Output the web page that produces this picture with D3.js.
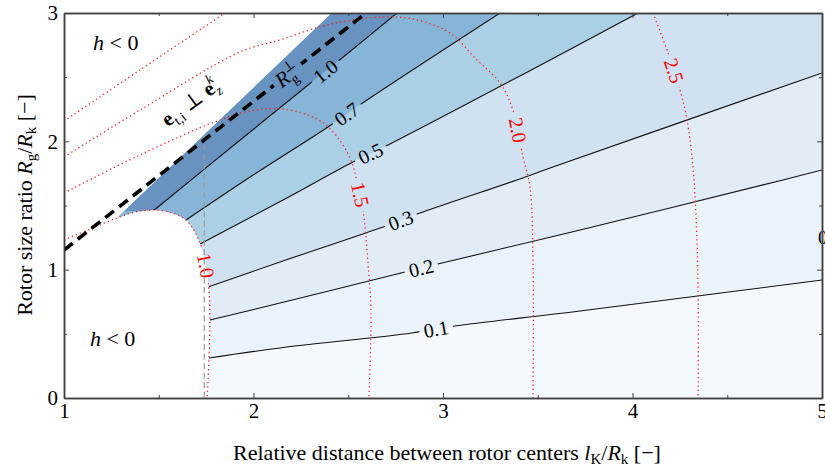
<!DOCTYPE html>
<html lang="en">
  <head>
    <meta charset="utf-8" />
    <title>Rotor size ratio vs. rotor distance</title>
    <script src="https://d3js.org/d3.v7.min.js"></script>
    <style>
      body { margin: 0; background: #fff; }
      text { font-family: "Liberation Serif", "DejaVu Serif", serif; }
    </style>
  </head>
  <body>
    <div id="graph"></div>
    <script>

    // ---- data, every point is [l_K/R_k, R_g/R_k] ----
    var xTicks = [1, 2, 3, 4, 5];
    var xMinorTicks = [1.5, 2.5, 3.5, 4.5];
    var yTicks = [0, 1, 2, 3];
    var yMinorTicks = [0.5, 1.5, 2.5];

    // black contour lines of the blue field
    var levels = [0.1, 0.2, 0.3, 0.5, 0.7, 1.0];
    var contour01 = [[1.765, 0.312], [2.140, 0.390], [2.836, 0.507], [3.063, 0.561], [3.723, 0.678], [5.000, 0.920]];
    var contour02 = [[1.770, 0.608], [2.140, 0.740], [2.757, 0.966], [2.995, 1.052], [3.723, 1.309], [4.794, 1.699], [5.000, 1.777]];
    var contour03 = [[1.760, 0.865], [2.140, 1.060], [2.668, 1.325], [2.894, 1.449], [3.390, 1.699], [3.565, 1.792], [5.000, 2.533]];
    var contour05 = [[1.718, 1.200], [2.156, 1.543], [2.525, 1.839], [2.720, 1.979], [3.565, 2.634], [4.029, 3.000]];
    var contour07 = [[1.644, 1.387], [1.982, 1.722], [2.393, 2.112], [2.599, 2.322], [3.301, 3.000]];
    var contour10 = [[1.470, 1.457], [1.982, 2.073], [2.288, 2.439], [2.467, 2.649], [2.757, 3.000]];

    // red dotted contours (1.0 also bounds the h < 0 blob)
    var redLeft10 = [[1.000, 1.231], [1.137, 1.317]];
    var blob = [[1.280, 1.403], [1.375, 1.449], [1.470, 1.465], [1.570, 1.442], [1.644, 1.387], [1.691, 1.294],
                [1.723, 1.184], [1.749, 1.036], [1.765, 0.842], [1.770, 0.608], [1.765, 0.312], [1.755, 0.000]];
    var red15 = [[1.000, 1.597], [1.401, 1.894], [1.807, 2.158], [1.982, 2.236], [2.156, 2.252], [2.335, 2.174],
                 [2.430, 2.057], [2.509, 1.870], [2.551, 1.660], [2.578, 1.465], [2.604, 1.052], [2.620, 0.662], [2.609, 0.000]];
    var red20 = [[1.000, 1.878], [1.401, 2.244], [1.929, 2.696], [2.140, 2.790], [2.388, 2.907], [2.683, 2.969],
                 [2.863, 2.946], [3.037, 2.844], [3.179, 2.634], [3.301, 2.455], [3.369, 2.244], [3.422, 1.878],
                 [3.459, 1.644], [3.475, 1.052], [3.475, 0.000]];
    var red25a = [[1.000, 2.158], [1.401, 2.556], [1.850, 3.000]];
    var red25b = [[4.108, 3.000], [4.182, 2.712], [4.251, 2.400], [4.288, 2.166], [4.319, 1.800], [4.335, 1.426],
                  [4.346, 0.858], [4.346, 0.000]];

    // other curves
    var blueEdge = [[1.280, 1.403], [2.414, 3.000]];
    var rgPerp = [[1.000, 1.153], [2.594, 3.000]];
    var sqrt3Line = [[1.74, 2.05], [1.74, 0.00]];

    var bandColors = ["#f4f9fe", "#ebf3fa", "#e1ecf7", "#d0e2f1", "#abd0e6", "#86b5d8", "#6892c0"];

    // ---- layout ----
    var w = 825, h = 471;
    var x = d3.scaleLinear().domain([1, 5]).range([64, 822]);
    var y = d3.scaleLinear().domain([0, 3]).range([398, 13]);
    var font = "Liberation Serif, DejaVu Serif, serif";

    var svg = d3.select("#graph")
      .append("svg")
        .attr("width", w)
        .attr("height", h);
    var defs = svg.append("defs");

    var lineCR = d3.line().x(d => x(d[0])).y(d => y(d[1])).curve(d3.curveCatmullRom.alpha(0.5));
    var lineLin = d3.line().x(d => x(d[0])).y(d => y(d[1]));
    var pt = d => x(d[0]) + "," + y(d[1]);

    defs.append("clipPath").attr("id", "plotClip").append("rect")
      .attr("x", x(1)).attr("y", y(3))
      .attr("width", x(5) - x(1)).attr("height", y(0) - y(3));

    // the h >= 0 region
    var validD = lineCR(blob.slice().reverse()) + "L" + pt(blueEdge[1]) + "L" + pt([5, 3]) + "L" + pt([5, 0]) + "Z";
    defs.append("clipPath").attr("id", "validClip").append("path").attr("d", validD);

    function makeMask(id) {
      var m = defs.append("mask").attr("id", id)
        .attr("maskUnits", "userSpaceOnUse")
        .attr("x", 0).attr("y", 0).attr("width", w).attr("height", h);
      m.append("rect").attr("width", w).attr("height", h).attr("fill", "white");
      return m;
    }
    var maskBlack = makeMask("maskBlack"), maskRed = makeMask("maskRed"), maskDash = makeMask("maskDash");

    // filled bands
    var contours = [contour01, contour02, contour03, contour05, contour07, contour10];
    var field = svg.append("g").attr("clip-path", "url(#validClip)");
    field.append("rect")
      .attr("x", x(1)).attr("y", y(3))
      .attr("width", x(5) - x(1)).attr("height", y(0) - y(3))
      .attr("fill", bandColors[0]);
    contours.forEach(function (c, i) {
      var first = c[0], last = c[c.length - 1];
      var d = lineCR(c);
      if (last[0] >= 5) d += "L" + pt([5, 3]);
      d += "L" + pt([1, 3]) + "L" + pt([1, first[1]]) + "Z";
      field.append("path").attr("d", d).attr("fill", bandColors[i + 1]);
    });

    // put a label on a path at the point nearest to anchor
    function onPath(node, anchor) {
      var total = node.getTotalLength();
      var ax = x(anchor[0]), ay = y(anchor[1]);
      var best = 0, bestD = Infinity;
      for (var s = 0; s <= total; s += 0.5) {
        var p = node.getPointAtLength(s);
        var dd = (p.x - ax) * (p.x - ax) + (p.y - ay) * (p.y - ay);
        if (dd < bestD) { bestD = dd; best = s; }
      }
      var p0 = node.getPointAtLength(Math.max(0, best - 4));
      var p1 = node.getPointAtLength(Math.min(total, best + 4));
      var pm = node.getPointAtLength(best);
      return {x: pm.x, y: pm.y, angle: Math.atan2(p1.y - p0.y, p1.x - p0.x) * 180 / Math.PI};
    }

    function cutLabel(mask, pos, width, height) {
      mask.append("rect")
        .attr("transform", `translate(${pos.x},${pos.y}) rotate(${pos.angle})`)
        .attr("x", -width / 2).attr("y", -height / 2)
        .attr("width", width).attr("height", height)
        .attr("fill", "black");
    }

    var labelLayer = svg.append("g").attr("clip-path", "url(#plotClip)");

    // black contour lines
    var blackG = svg.append("g").attr("clip-path", "url(#validClip)")
      .append("g").attr("mask", "url(#maskBlack)");
    var blackAnchors = [[2.963, 0.538], [2.884, 1.013], [2.773, 1.403], [2.615, 1.909], [2.483, 2.229], [2.367, 2.571]];
    contours.forEach(function (c, i) {
      var path = blackG.append("path")
        .attr("d", lineCR(c))
        .attr("fill", "none")
        .attr("stroke", "#111")
        .attr("stroke-width", 1.1);
      var pos = onPath(path.node(), blackAnchors[i]);
      var t = labelLayer.append("text")
        .attr("transform", `translate(${pos.x},${pos.y}) rotate(${pos.angle})`)
        .attr("text-anchor", "middle")
        .attr("dy", "0.35em")
        .attr("font-size", 20)
        .attr("fill", "#000")
        .text(d3.format(".1f")(levels[i]));
      cutLabel(maskBlack, pos, t.node().getComputedTextLength() + 9, 16);
    });

    // gray dashed vertical line
    svg.append("path")
      .attr("d", lineLin(sqrt3Line))
      .attr("fill", "none")
      .attr("stroke", "#9a9a9a")
      .attr("stroke-width", 1.2)
      .attr("stroke-dasharray", "6,3.5");

    // red dotted contours
    var redG = svg.append("g").attr("clip-path", "url(#plotClip)")
      .append("g").attr("mask", "url(#maskRed)");
    var redCurves = [
      {pts: redLeft10.concat(blob), label: "1.0", anchor: [1.760, 1.036]},
      {pts: red15, label: "1.5", anchor: [2.551, 1.582]},
      {pts: red20, label: "2.0", anchor: [3.406, 2.088]},
      {pts: red25a, label: null},
      {pts: red25b, label: "2.5", anchor: [4.235, 2.556]}
    ];
    redCurves.forEach(function (c) {
      var path = redG.append("path")
        .attr("d", lineCR(c.pts))
        .attr("fill", "none")
        .attr("stroke", "#ff2020")
        .attr("stroke-width", 1.3)
        .attr("stroke-dasharray", "1.3,3");
      if (!c.label) return;
      var pos = onPath(path.node(), c.anchor);
      var t = labelLayer.append("text")
        .attr("transform", `translate(${pos.x},${pos.y}) rotate(${pos.angle})`)
        .attr("text-anchor", "middle")
        .attr("dy", "0.35em")
        .attr("font-size", 20)
        .attr("fill", "#ff0000")
        .text(c.label);
      cutLabel(maskRed, pos, t.node().getComputedTextLength() + 9, 16);
    });

    // R_g perpendicular dashed line
    var dashG = svg.append("g").attr("clip-path", "url(#plotClip)")
      .append("g").attr("mask", "url(#maskDash)");
    var dashPath = dashG.append("path")
      .attr("d", lineLin(rgPerp))
      .attr("fill", "none")
      .attr("stroke", "#000")
      .attr("stroke-width", 3.6)
      .attr("stroke-dasharray", "11,6.5");
    var rPos = onPath(dashPath.node(), [2.187, 2.501]);
    var rText = labelLayer.append("text")
      .attr("transform", `translate(${rPos.x},${rPos.y}) rotate(${rPos.angle})`)
      .attr("text-anchor", "middle")
      .attr("dy", "0.35em")
      .attr("font-size", 21);
    rText.append("tspan").attr("font-style", "italic").text("R");
    rText.append("tspan").attr("font-size", 14).attr("dy", 5).text("g");
    rText.append("tspan").attr("font-size", 14).attr("dx", -7).attr("dy", -14).text("⊥");
    cutLabel(maskDash, rPos, rText.node().getBBox().width + 8, 18);

    // e_t,i ⊥ e_z^k annotation
    var eText = svg.append("text")
      .attr("transform", `translate(${x(1.665)},${y(2.307)}) rotate(-36)`)
      .attr("text-anchor", "middle")
      .attr("dy", "0.35em")
      .attr("font-size", 21);
    eText.append("tspan").attr("font-weight", "bold").text("e");
    eText.append("tspan").attr("font-size", 14).attr("dy", 5).text("t,i");
    eText.append("tspan").attr("dy", -5).text(" ⊥ ");
    eText.append("tspan").attr("font-weight", "bold").text("e");
    eText.append("tspan").attr("font-size", 14).attr("font-style", "italic").attr("dy", 5).text("z");
    eText.append("tspan").attr("font-size", 14).attr("font-style", "italic").attr("dx", -7).attr("dy", -15).text("k");

    // h < 0 region labels
    [[1.153, 2.712], [1.137, 0.405]].forEach(function (p) {
      var t = svg.append("text")
        .attr("x", x(p[0])).attr("y", y(p[1]))
        .attr("font-size", 22);
      t.append("tspan").attr("font-style", "italic").text("h");
      t.append("tspan").text(" < 0");
    });

    // partial contour label cut by the right border
    svg.append("text")
      .attr("x", 818).attr("y", 244)
      .attr("font-size", 19)
      .text("0");

    // ---- axes (ticks inside on all four sides) ----
    function styleAxis(g) {
      g.attr("font-family", font).attr("font-size", 21);
      g.selectAll(".domain").attr("stroke", "#404040").attr("stroke-width", 1.5);
      g.selectAll(".tick line").attr("stroke", "#404040").attr("stroke-width", 1);
      g.selectAll(".tick text").attr("fill", "#000");
    }
    var axes = svg.append("g");
    axes.append("g").attr("transform", `translate(0,${y(0)})`)
      .call(d3.axisBottom(x).tickValues(xTicks).tickFormat(d3.format("d")).tickSizeInner(-5).tickSizeOuter(0).tickPadding(5))
      .call(styleAxis);
    axes.append("g").attr("transform", `translate(0,${y(0)})`)
      .call(d3.axisBottom(x).tickValues(xMinorTicks).tickFormat("").tickSizeInner(-3).tickSizeOuter(0))
      .call(styleAxis);
    axes.append("g").attr("transform", `translate(0,${y(3)})`)
      .call(d3.axisTop(x).tickValues(xTicks).tickFormat("").tickSizeInner(-5).tickSizeOuter(0))
      .call(styleAxis);
    axes.append("g").attr("transform", `translate(0,${y(3)})`)
      .call(d3.axisTop(x).tickValues(xMinorTicks).tickFormat("").tickSizeInner(-3).tickSizeOuter(0))
      .call(styleAxis);
    axes.append("g").attr("transform", `translate(${x(1)},0)`)
      .call(d3.axisLeft(y).tickValues(yTicks).tickFormat(d3.format("d")).tickSizeInner(-5).tickSizeOuter(0).tickPadding(6))
      .call(styleAxis);
    axes.append("g").attr("transform", `translate(${x(1)},0)`)
      .call(d3.axisLeft(y).tickValues(yMinorTicks).tickFormat("").tickSizeInner(-3).tickSizeOuter(0))
      .call(styleAxis);
    axes.append("g").attr("transform", `translate(${x(5)},0)`)
      .call(d3.axisRight(y).tickValues(yTicks).tickFormat("").tickSizeInner(-5).tickSizeOuter(0))
      .call(styleAxis);
    axes.append("g").attr("transform", `translate(${x(5)},0)`)
      .call(d3.axisRight(y).tickValues(yMinorTicks).tickFormat("").tickSizeInner(-3).tickSizeOuter(0))
      .call(styleAxis);

    // axis titles
    var xlabel = svg.append("text")
      .attr("x", 447).attr("y", 460)
      .attr("text-anchor", "middle")
      .attr("font-size", 22);
    xlabel.append("tspan").text("Relative distance between rotor centers ");
    xlabel.append("tspan").attr("font-style", "italic").text("l");
    xlabel.append("tspan").attr("font-size", 15).attr("dy", 4).text("K");
    xlabel.append("tspan").attr("dy", -4).text("/");
    xlabel.append("tspan").attr("font-style", "italic").text("R");
    xlabel.append("tspan").attr("font-size", 15).attr("dy", 4).text("k");
    xlabel.append("tspan").attr("dy", -4).text(" [−]");

    var ylabel = svg.append("text")
      .attr("transform", "translate(32,205) rotate(-90)")
      .attr("text-anchor", "middle")
      .attr("font-size", 22);
    ylabel.append("tspan").text("Rotor size ratio ");
    ylabel.append("tspan").attr("font-style", "italic").text("R");
    ylabel.append("tspan").attr("font-size", 15).attr("dy", 4).text("g");
    ylabel.append("tspan").attr("dy", -4).text("/");
    ylabel.append("tspan").attr("font-style", "italic").text("R");
    ylabel.append("tspan").attr("font-size", 15).attr("dy", 4).text("k");
    ylabel.append("tspan").attr("dy", -4).text(" [−]");

    </script>
  </body>
</html>
